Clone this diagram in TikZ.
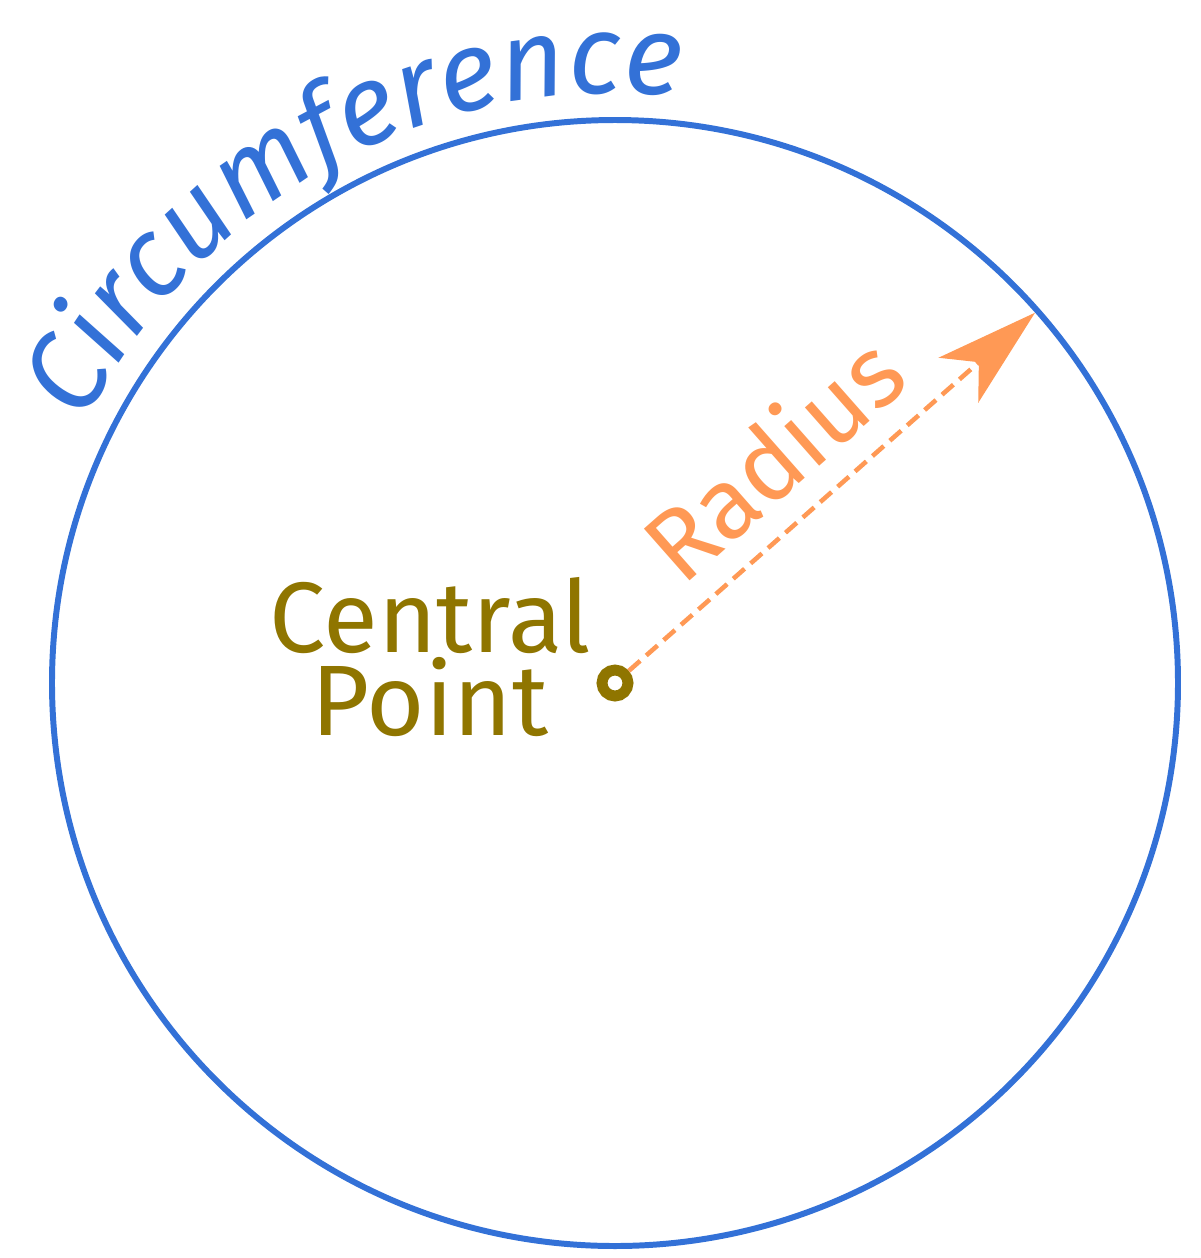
\documentclass[tikz,border=0pt]{standalone}
\usepackage{fontspec}
\setmainfont{Fira Sans}
\usetikzlibrary{positioning,arrows.meta,decorations.text}
\definecolor{rimblue}{HTML}{3371D7}
\definecolor{radorange}{HTML}{FF9955}
\definecolor{midolive}{HTML}{8F7500}
\newcommand\circfont{\fontsize{32pt}{32pt}\selectfont\itshape}

\begin{document}
\begin{tikzpicture} [rim/.style={draw=rimblue, line width=1.7pt}, centre/.style={circle, draw=midolive, line width=3.1pt, minimum size=0.26cm, inner sep=0pt}, radline/.style={radorange, line width=1.3pt, dash pattern=on 4.3pt off 2.3pt, -{Stealth[length=29pt, width=17pt, inset=7.7pt]}}, ptlabel/.style={midolive, align=center, inner sep=0pt, font=\fontsize{28.5pt}{22pt}\selectfont}]
  \useasboundingbox (0,0) rectangle (12,-12.58);
  %% Circle and its centre
  \draw [rim] (6.15,-6.83) circle (5.63);
  \node [centre] (cp) at (6.15,-6.83) {};
  \path (cp.center) ++(41.4:5.6) coordinate (tip);
  \node [ptlabel, left=0.05cm of cp, yshift=0.26cm] (cptext) {Central\\Point};
  % Radius
  \draw [radline] (cp) -- node[sloped, above=0.24cm, pos=0.46, inner sep=0pt, font=\fontsize{28.5pt}{28.5pt}\selectfont] (rad) {Radius} (tip);
  % Text along the rim
  \path [decorate, decoration={text along path, text align=center, text color=rimblue, text={|\circfont|Circumference}}] (cp.center) ++(160:5.9) arc [start angle=160, end angle=77.5, radius=5.9];
\end{tikzpicture}
\end{document}
